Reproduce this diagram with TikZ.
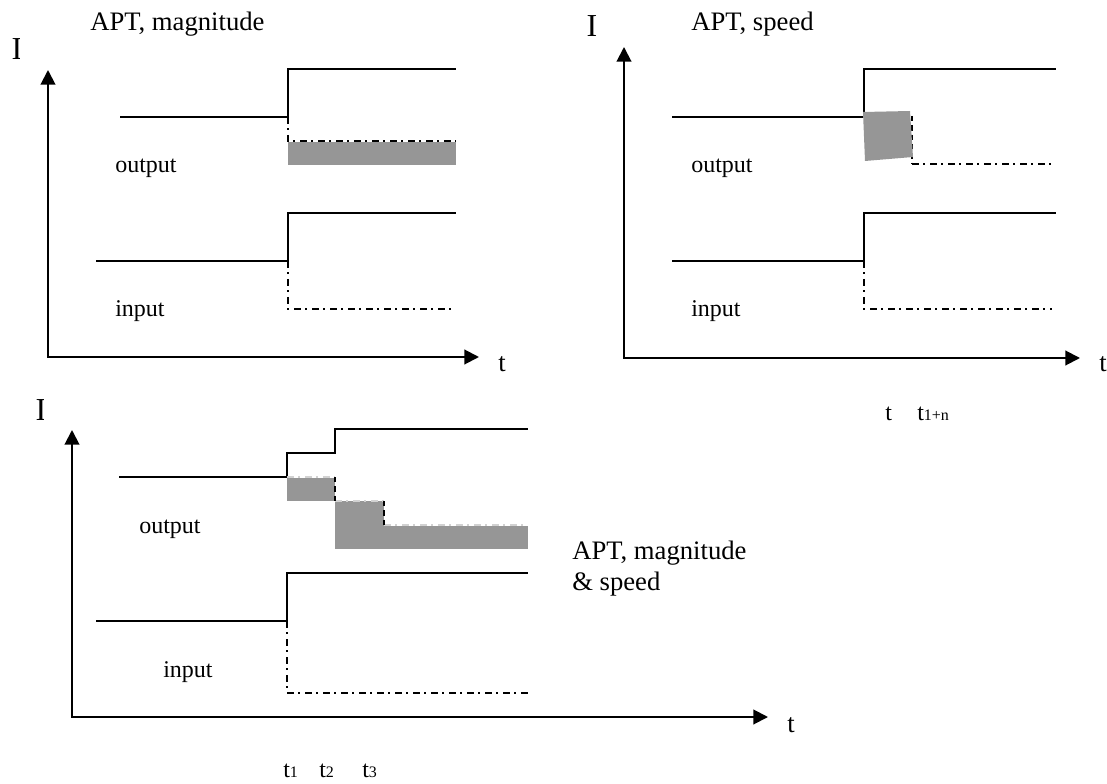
\documentclass[tikz,border=0pt]{standalone}
\usepackage{fontspec}
\setmainfont{Liberation Serif}
\usetikzlibrary{arrows.meta}
\definecolor{aptgray}{RGB}{150,150,150}
\newcommand{\aptbig}{\fontsize{24}{28}\selectfont}
\newcommand{\apttitle}{\fontsize{20}{24}\selectfont}
\newcommand{\aptlabel}{\fontsize{18}{21}\selectfont}
\newcommand{\aptsub}{\fontsize{12}{14}\selectfont}

\begin{document}
\begin{tikzpicture}[x=0.75pt, y=-0.75pt,
    axisline/.style={line width=1.5pt, {Triangle[length=11pt,width=11pt]}-{Triangle[length=11pt,width=11pt]}},
    sigline/.style={line width=1.4pt},
    ddline/.style={line width=1.4pt, dash pattern=on 5pt off 3.5pt on 1.5pt off 3.5pt},
    dashline/.style={line width=1.4pt, dash pattern=on 4pt off 3pt},
    lbl/.style={anchor=base west, inner sep=0pt, font=\aptlabel},
    ttl/.style={anchor=base west, inner sep=0pt, font=\apttitle},
    ilbl/.style={anchor=base, inner sep=0pt, font=\aptbig}]
    \useasboundingbox (0,0) rectangle (1107,784);

    % APT, magnitude
    \begin{scope}
        \clip (0,30) rectangle (19,70);
        \node[ilbl] (iA) at (17,60) {I};
    \end{scope}
    \node[ttl] (titleA) at (90,31) {APT, magnitude};
    \draw[axisline] (48,70) -- (48,357) -- (479,357);
    \node[ttl] (tA) at (498,372) {t};
    \fill[aptgray] (288,142) rectangle (456,165);
    \draw[sigline] (120,117) -- (288,117) -- (288,69) -- (456,69);
    \draw[ddline] (288,117) -- (288,141) -- (456,141);
    \node[lbl] (outA) at (115,173) {output};
    \draw[sigline] (96,261) -- (288,261) -- (288,213) -- (456,213);
    \draw[ddline] (288,261) -- (288,309) -- (456,309);
    \node[lbl] (inA) at (115,317) {input};

    % APT, speed
    \begin{scope}
        \clip (570,10) rectangle (596,45);
        \node[ilbl] (iB) at (592,37) {I};
    \end{scope}
    \node[ttl] (titleB) at (691,31) {APT, speed};
    \draw[axisline] (624,47) -- (624,358) -- (1080,358);
    \node[ttl] (tB) at (1099,372) {t};
    \draw[sigline] (672,117) -- (864,117) -- (864,69) -- (1056,69);
    \draw[dashline] (912,116) -- (912,164);
    \draw[ddline] (912,164) -- (1056,164);
    \fill[aptgray] (863,112) -- (910,111) -- (913,157) -- (865,161) -- cycle;
    \node[lbl] (outB) at (691,173) {output};
    \draw[sigline] (672,261) -- (864,261) -- (864,213) -- (1056,213);
    \draw[ddline] (864,261) -- (864,309) -- (1052,309);
    \node[lbl] (inB) at (691,317) {input};
    \node[lbl] (tsB) at (885,421) {t};
    \node[lbl] (tnB) at (917,421) {t{\aptsub 1+n}};

    % APT, magnitude & speed
    \begin{scope}
        \clip (20,390) rectangle (43.5,430);
        \node[ilbl] (iC) at (41,421) {I};
    \end{scope}
    \draw[axisline] (72,430) -- (72,717) -- (768,717);
    \node[ttl] (tC) at (787,732) {t};
    \fill[aptgray] (287,478) rectangle (335,501);
    \fill[aptgray] (335,501) rectangle (384,549);
    \fill[aptgray] (384,526) rectangle (528,549);
    \draw[sigline] (119,477) -- (287,477) -- (287,453) -- (335,453) -- (335,429) -- (528,429);
    \draw[ddline, gray!35] (287,477) -- (335,477) (335,501) -- (384,501) (384,525) -- (528,525);
    \draw[dashline] (335,477) -- (335,501) (384,501) -- (384,525);
    \node[lbl] (outC) at (139,533) {output};
    \draw[sigline] (96,621) -- (287,621) -- (287,573) -- (528,573);
    \draw[ddline] (287,621) -- (287,693) -- (528,693);
    \node[lbl] (inC) at (163,677) {input};
    \node[ttl] (titleC) at (572,559) {APT, magnitude};
    \node[ttl] (titleC2) at (572,590) {\& speed};
    \node[lbl] (t1C) at (283,777) {t{\aptsub 1}};
    \node[lbl] (t2C) at (319,777) {t{\aptsub 2}};
    \node[lbl] (t3C) at (362,777) {t{\aptsub 3}};
\end{tikzpicture}
\end{document}
